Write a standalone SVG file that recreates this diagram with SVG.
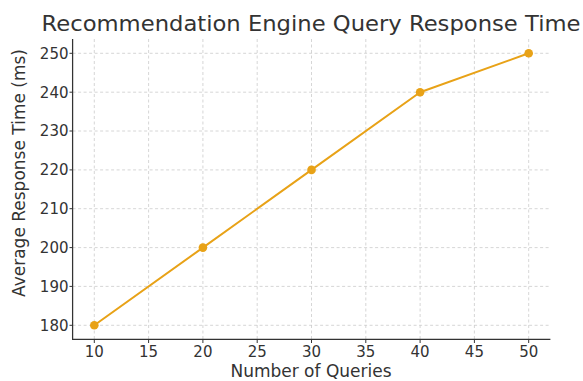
<svg xmlns="http://www.w3.org/2000/svg" width="583" height="381" viewBox="0 0 583 381">
  <style>
    text { font-family: "DejaVu Sans", "Liberation Sans", sans-serif; fill: #333333; }
    .title { font-size: 21px; }
    .lbl { font-size: 17px; }
    .tick { font-size: 15px; }
    .grid line { stroke: #cccccc; stroke-width: 0.8; stroke-dasharray: 3 2.5; }
    .spine { stroke: #333333; stroke-width: 1.25; fill: none; }
    .tickmark { stroke: #333333; stroke-width: 1; }
    .series { stroke: #E8A217; stroke-width: 2; fill: none; stroke-linejoin: round; }
    .pt { fill: #E8A217; }
  </style>

  <!-- title -->
  <text class="title" x="311" y="30.5" text-anchor="middle" textLength="539" lengthAdjust="spacingAndGlyphs">Recommendation Engine Query Response Time</text>

  <!-- grid -->
  <g class="grid" id="grid">
    <line x1="94.3" y1="39" x2="94.3" y2="339.3"/>
    <line x1="148.6" y1="39" x2="148.6" y2="339.3"/>
    <line x1="202.9" y1="39" x2="202.9" y2="339.3"/>
    <line x1="257.2" y1="39" x2="257.2" y2="339.3"/>
    <line x1="311.5" y1="39" x2="311.5" y2="339.3"/>
    <line x1="365.8" y1="39" x2="365.8" y2="339.3"/>
    <line x1="420.1" y1="39" x2="420.1" y2="339.3"/>
    <line x1="474.4" y1="39" x2="474.4" y2="339.3"/>
    <line x1="528.7" y1="39" x2="528.7" y2="339.3"/>
    <line x1="72.6" y1="325.3" x2="550.4" y2="325.3"/>
    <line x1="72.6" y1="286.4" x2="550.4" y2="286.4"/>
    <line x1="72.6" y1="247.6" x2="550.4" y2="247.6"/>
    <line x1="72.6" y1="208.7" x2="550.4" y2="208.7"/>
    <line x1="72.6" y1="169.9" x2="550.4" y2="169.9"/>
    <line x1="72.6" y1="131.0" x2="550.4" y2="131.0"/>
    <line x1="72.6" y1="92.2" x2="550.4" y2="92.2"/>
    <line x1="72.6" y1="53.3" x2="550.4" y2="53.3"/>
  </g>

  <!-- axes -->
  <g id="axes">
    <polyline class="spine" points="72.6,39 72.6,339.3 550.4,339.3"/>
    <g class="tickmark">
      <line x1="94.3" y1="339.3" x2="94.3" y2="343"/>
      <line x1="148.6" y1="339.3" x2="148.6" y2="343"/>
      <line x1="202.9" y1="339.3" x2="202.9" y2="343"/>
      <line x1="257.2" y1="339.3" x2="257.2" y2="343"/>
      <line x1="311.5" y1="339.3" x2="311.5" y2="343"/>
      <line x1="365.8" y1="339.3" x2="365.8" y2="343"/>
      <line x1="420.1" y1="339.3" x2="420.1" y2="343"/>
      <line x1="474.4" y1="339.3" x2="474.4" y2="343"/>
      <line x1="528.7" y1="339.3" x2="528.7" y2="343"/>
      <line x1="69.5" y1="325.3" x2="72.6" y2="325.3"/>
      <line x1="69.5" y1="286.4" x2="72.6" y2="286.4"/>
      <line x1="69.5" y1="247.6" x2="72.6" y2="247.6"/>
      <line x1="69.5" y1="208.7" x2="72.6" y2="208.7"/>
      <line x1="69.5" y1="169.9" x2="72.6" y2="169.9"/>
      <line x1="69.5" y1="131.0" x2="72.6" y2="131.0"/>
      <line x1="69.5" y1="92.2" x2="72.6" y2="92.2"/>
      <line x1="69.5" y1="53.3" x2="72.6" y2="53.3"/>
    </g>
    <g class="tick" text-anchor="middle">
      <text x="94.3" y="357">10</text>
      <text x="148.6" y="357">15</text>
      <text x="202.9" y="357">20</text>
      <text x="257.2" y="357">25</text>
      <text x="311.5" y="357">30</text>
      <text x="365.8" y="357">35</text>
      <text x="420.1" y="357">40</text>
      <text x="474.4" y="357">45</text>
      <text x="528.7" y="357">50</text>
    </g>
    <g class="tick" text-anchor="end">
      <text x="68.5" y="330.7">180</text>
      <text x="68.5" y="291.8">190</text>
      <text x="68.5" y="253">200</text>
      <text x="68.5" y="214.1">210</text>
      <text x="68.5" y="175.3">220</text>
      <text x="68.5" y="136.4">230</text>
      <text x="68.5" y="97.6">240</text>
      <text x="68.5" y="58.7">250</text>
    </g>
    <text class="lbl" x="311" y="377" text-anchor="middle">Number of Queries</text>
    <text class="lbl" transform="translate(24.5,173) rotate(-90)" text-anchor="middle">Average Response Time (ms)</text>
  </g>

  <!-- data series -->
  <g id="series">
    <polyline class="series" points="94.3,325.3 202.9,247.6 311.5,169.9 420.1,92.2 528.7,53.3"/>
    <circle class="pt" cx="94.3" cy="325.3" r="4.3"/>
    <circle class="pt" cx="202.9" cy="247.6" r="4.3"/>
    <circle class="pt" cx="311.5" cy="169.9" r="4.3"/>
    <circle class="pt" cx="420.1" cy="92.2" r="4.3"/>
    <circle class="pt" cx="528.7" cy="53.3" r="4.3"/>
  </g>
</svg>
